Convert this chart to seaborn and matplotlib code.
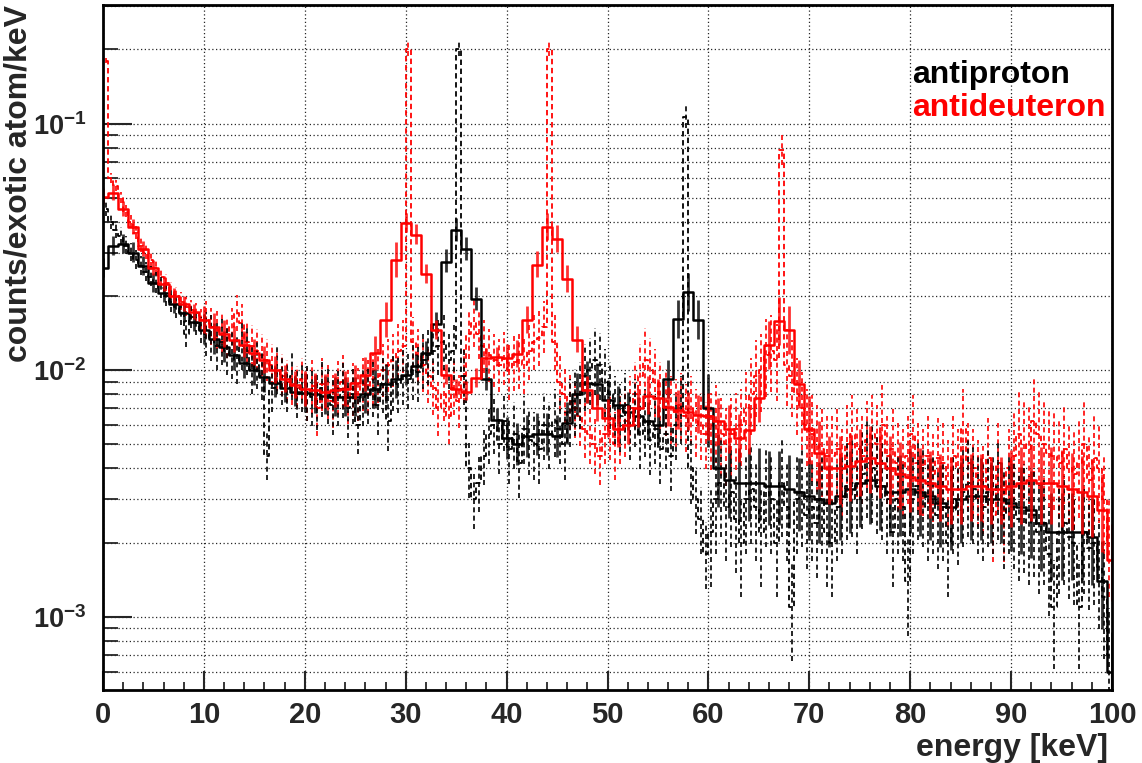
import numpy as np
import pandas as pd
import matplotlib
matplotlib.use("Agg")
import matplotlib.pyplot as plt
import seaborn as sns
from matplotlib.ticker import FixedLocator, LogLocator, NullFormatter, MultipleLocator

sns.set_style("white")
plt.rcParams['font.family'] = ['Liberation Sans', 'DejaVu Sans']
plt.rcParams['font.weight'] = 'bold'
plt.rcParams['mathtext.fontset'] = 'custom'
plt.rcParams['mathtext.rm'] = 'Liberation Sans:bold'
plt.rcParams['mathtext.bf'] = 'Liberation Sans:bold'
plt.rcParams['mathtext.it'] = 'Liberation Sans:bold'

# ---------------- data (values in units of 1e-4 counts/exotic atom/keV) ----------------
# raw spectra, 0.5 keV bins starting at 0 keV
antiproton_raw = [
    450, 400, 370, 350, 320, 300, 280, 265, 250, 240,
    225, 215, 200, 190, 180, 170, 140, 165, 155, 145,
    140, 135, 125, 130, 120, 115, 110, 125, 120, 100,
    105, 95, 45, 85, 100, 90, 85, 95, 80, 85,
    82, 78, 75, 85, 80, 72, 78, 84, 70, 80,
    60, 78, 80, 85, 72, 88, 62, 90, 88, 95,
    92, 100, 98, 110, 115, 120, 125, 130, 110, 120,
    2000, 95, 40, 30, 35, 45, 55, 60, 50, 62,
    48, 55, 42, 58, 52, 50, 48, 60, 55, 62,
    58, 50, 68, 75, 80, 95, 100, 110, 105, 90,
    80, 70, 65, 72, 60, 68, 55, 62, 52, 58,
    48, 55, 45, 60, 70, 1060, 40, 30, 25, 18,
    22, 30, 35, 28, 32, 25, 20, 30, 33, 28,
    22, 32, 30, 20, 35, 28, 11, 30, 32, 26,
    28, 24, 30, 22, 20, 28, 30, 34, 35, 30,
    38, 42, 40, 36, 34, 30, 22, 30, 28, 14,
    30, 34, 32, 28, 30, 26, 28, 20, 30, 27,
    32, 35, 33, 30, 28, 32, 30, 34, 26, 30,
    28, 25, 27, 24, 26, 22, 24, 18, 11, 22,
    24, 21, 20, 11, 22, 19, 20, 16, 12, 7,
]
antideuteron_raw = [
    1800, 600, 560, 500, 440, 400, 360, 320, 300, 280,
    260, 240, 225, 210, 200, 190, 180, 175, 170, 160,
    160, 150, 145, 140, 135, 150, 170, 155, 130, 125,
    120, 115, 110, 105, 100, 95, 90, 88, 85, 92,
    80, 86, 70, 88, 82, 75, 85, 90, 78, 84,
    80, 88, 86, 92, 95, 100, 105, 110, 120, 125,
    2000, 130, 115, 105, 95, 85, 70, 80, 65, 85,
    75, 95, 140, 155, 140, 125, 115, 110, 105, 112,
    100, 108, 110, 105, 120, 130, 135, 150, 2000, 130,
    90, 80, 75, 70, 65, 58, 55, 50, 45, 55,
    60, 50, 58, 62, 70, 80, 95, 110, 100, 90,
    80, 75, 70, 68, 72, 65, 70, 62, 60, 55,
    58, 62, 55, 50, 55, 58, 60, 70, 80, 95,
    100, 115, 120, 110, 780, 105, 95, 80, 70, 60,
    55, 50, 48, 45, 45, 48, 40, 50, 55, 48,
    45, 52, 55, 50, 60, 45, 48, 42, 40, 45,
    55, 42, 40, 45, 38, 44, 42, 36, 45, 40,
    58, 42, 40, 36, 34, 44, 26, 42, 26, 40,
    45, 55, 50, 48, 62, 55, 50, 46, 45, 42,
    48, 40, 38, 42, 50, 36, 44, 40, 30, 20,
]
# smoothed (resolution-folded) spectra, 1 keV bins centred on 0..100 keV
antiproton_smooth = [
    260, 320, 325, 300, 265, 225, 205, 185, 170, 157, 146,
    134, 124, 115, 107, 100, 94, 89, 85, 82, 81,
    80, 79, 78, 78, 78, 80, 84, 88, 92, 96,
    104, 117, 154, 276, 370, 310, 194, 92, 63, 53,
    50, 54, 55, 55, 54, 61, 80, 89, 88, 76,
    72, 68, 65, 62, 60, 92, 161, 207, 160, 70,
    40, 36, 35, 35, 35, 34, 34, 33, 32, 31,
    30, 29, 31, 33, 35, 36, 34, 32, 32, 33,
    32, 31, 29, 28, 30, 31, 31, 30, 30, 29,
    28, 27, 24, 22, 22, 22, 22, 21, 14, 6,
]
antideuteron_smooth = [
    506, 525, 450, 380, 310, 260, 223, 200, 185, 172, 160,
    150, 140, 133, 127, 118, 110, 100, 92, 87, 84,
    83, 82, 83, 84, 89, 96, 117, 160, 280, 395,
    355, 245, 146, 96, 84, 82, 93, 112, 113, 112,
    116, 160, 268, 380, 340, 234, 133, 83, 70, 64,
    58, 60, 70, 79, 77, 71, 69, 68, 66, 65,
    62, 58, 53, 57, 77, 127, 158, 146, 88, 58,
    46, 40, 40, 41, 43, 44, 42, 40, 38, 37,
    36, 35, 34, 33, 33, 34, 34, 33, 33, 34,
    35, 36, 35, 35, 34, 33, 32, 31, 27, 17,
]
# relative statistical errors (at the continuum level), one value per 10 keV segment
antiproton_raw_relerr = [0.15, 0.25, 0.30, 0.30, 0.35, 0.35, 0.50, 0.50, 0.50, 0.55]
antideuteron_raw_relerr = [0.12, 0.22, 0.28, 0.28, 0.30, 0.35, 0.40, 0.45, 0.45, 0.50]
antiproton_smooth_relerr = [0.10, 0.16, 0.20, 0.12, 0.22, 0.20, 0.38, 0.42, 0.42, 0.45]
antideuteron_smooth_relerr = [0.08, 0.14, 0.18, 0.10, 0.14, 0.20, 0.25, 0.35, 0.35, 0.40]

series_names = ["antiproton", "antideuteron"]
series_colors = ["black", "red"]
x_ticks = [0, 10, 20, 30, 40, 50, 60, 70, 80, 90, 100]
y_ticks = [1e-3, 1e-2, 1e-1]
y_ticklabels = [r"$10^{-3}$", r"$10^{-2}$", r"$10^{-1}$"]

UNIT = 1e-4
raw_x = np.arange(len(antiproton_raw)) * 0.5 + 0.25
smooth_x = np.arange(len(antiproton_smooth)) * 1.0

# ---------------- figure ----------------
fig = plt.figure(figsize=(11.42, 7.63), dpi=100)
ax = fig.add_axes([103 / 1142, 1 - 690 / 763, 1009 / 1142, 685 / 763])


def seg_err(rel, xs):
    return np.array([rel[min(int(x) // 10, 9)] for x in xs])


raw_sets = dict(zip(series_names, [antiproton_raw, antideuteron_raw]))
raw_errs = dict(zip(series_names, [antiproton_raw_relerr, antideuteron_raw_relerr]))
sm_sets = dict(zip(series_names, [antiproton_smooth, antideuteron_smooth]))
sm_errs = dict(zip(series_names, [antiproton_smooth_relerr, antideuteron_smooth_relerr]))
colors = dict(zip(series_names, series_colors))

# raw spectra, dashed (antideuteron drawn first, antiproton on top)
for name in series_names[::-1]:
    col = colors[name]
    y = np.array(raw_sets[name]) * UNIT
    df = pd.DataFrame({"energy": raw_x, "value": y})
    sns.lineplot(data=df, x="energy", y="value", ax=ax, color=col, estimator=None,
                 sort=False, drawstyle="steps-mid", linestyle=(0, (3, 2)), linewidth=1.3)
    r = seg_err(raw_errs[name], raw_x) * np.minimum(1.0, np.sqrt(0.012 / y))
    eb = ax.errorbar(raw_x, y, yerr=[y * r * 0.8, y * r], fmt="none", ecolor=col,
                     elinewidth=1.2)
    for c in eb[2]:
        c.set_linestyle((0, (3, 2)))

# smoothed spectra, solid with error bars
for name in series_names:
    col = colors[name]
    y = np.array(sm_sets[name]) * UNIT
    df = pd.DataFrame({"energy": smooth_x, "value": y})
    r = seg_err(sm_errs[name], smooth_x)
    ax.errorbar(smooth_x, y, yerr=[y * r * 0.8, y * r], fmt="none", ecolor=col,
                elinewidth=2.0, alpha=0.8)
    sns.lineplot(data=df, x="energy", y="value", ax=ax, color=col, estimator=None,
                 sort=False, drawstyle="steps-mid", linewidth=1.8)

ax.set_yscale("log")
ax.set_xlim(0, 100)
ax.set_ylim(5.05e-4, 0.303)

ax.xaxis.set_major_locator(FixedLocator(x_ticks))
ax.xaxis.set_minor_locator(MultipleLocator(2))
ax.set_xticklabels([str(t) for t in x_ticks], fontsize=21, fontweight="bold")
ax.yaxis.set_major_locator(FixedLocator(y_ticks))
ax.set_yticklabels(y_ticklabels, fontsize=19.5)
ax.yaxis.set_minor_locator(LogLocator(base=10, subs=range(2, 10)))
ax.yaxis.set_minor_formatter(NullFormatter())

ax.tick_params(axis="x", which="major", direction="in", length=14, width=1.5, pad=8,
               top=False, bottom=True)
ax.tick_params(axis="x", which="minor", direction="in", length=6, width=1.3,
               top=False, bottom=True)
ax.tick_params(axis="y", which="major", direction="in", length=21, width=1.5, pad=12,
               left=True, right=False)
ax.tick_params(axis="y", which="minor", direction="in", length=10.5, width=1.3,
               left=True, right=False)

grid_kw = dict(color="0.15", linestyle=(0, (1, 2)), linewidth=0.9)
ax.xaxis.grid(True, which="major", **grid_kw)
ax.xaxis.grid(False, which="minor")
ax.yaxis.grid(True, which="both", **grid_kw)
ax.set_axisbelow(True)

for s in ax.spines.values():
    s.set_visible(True)
    s.set_color("black")
    s.set_linewidth(2)

ax.set_xlabel("energy [keV]", fontsize=23, fontweight="bold", loc="right")
ax.xaxis.set_label_coords(1 - 4 / 1009, -(733 - 690) / 685)
ax.set_ylabel("counts/exotic atom/keV", fontsize=23, fontweight="bold", loc="top")
ax.yaxis.set_label_coords(-(103 - 34) / 1009, 1.0)

ax.text((912 - 103) / 1009, 1 - (83 - 5) / 685, series_names[0], color=series_colors[0],
        fontsize=23, fontweight="bold", transform=ax.transAxes, va="baseline", ha="left")
ax.text((912 - 103) / 1009, 1 - (116 - 5) / 685, series_names[1], color=series_colors[1],
        fontsize=23, fontweight="bold", transform=ax.transAxes, va="baseline", ha="left")

fig.savefig("out.png", dpi=100)
